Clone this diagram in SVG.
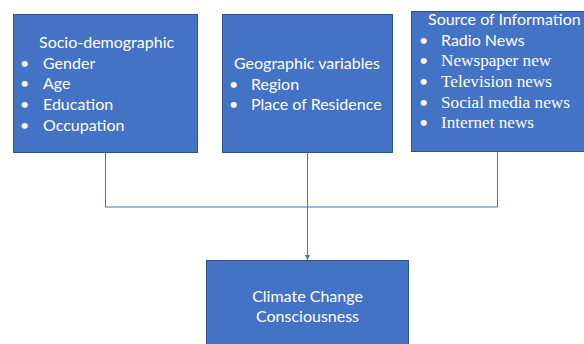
<svg xmlns="http://www.w3.org/2000/svg" width="584" height="344" viewBox="0 0 584 344">
<style>
.box{fill:#4472C4;stroke:#2F528F;stroke-width:1}
.t{fill:#fff;font-family:Lato,"Open Sans",sans-serif;font-size:16px}
.s{fill:#fff;font-family:"Liberation Serif",serif;font-size:17.2px}
.c{fill:none;stroke:#4472C4;stroke-width:1}
</style>
<defs>
<marker id="ah" viewBox="0 0 10 10" refX="10" refY="5" markerWidth="5" markerHeight="5" orient="auto">
<path d="M0,0 L10,5 L0,10 z" fill="#4472C4"/>
</marker>
</defs>
<g id="connectors">
<path class="c" d="M105.5,153 V207 H497.5 V152"/>
<path class="c" d="M307.5,153 V260" marker-end="url(#ah)"/>
</g>
<g id="socio">
<rect class="box" x="13.5" y="14.5" width="184" height="138"/>
<text class="t" x="39" y="48">Socio-demographic</text>
<text class="t" x="20" y="69">•</text><text class="t" x="43" y="69">Gender</text>
<text class="t" x="20" y="89">•</text><text class="t" x="43" y="89">Age</text>
<text class="t" x="20" y="110">•</text><text class="t" x="43" y="110">Education</text>
<text class="t" x="20" y="131">•</text><text class="t" x="43" y="131">Occupation</text>
</g>
<g id="geo">
<rect class="box" x="222.5" y="14.5" width="170" height="138"/>
<text class="t" x="234" y="69">Geographic variables</text>
<text class="t" x="229" y="90">•</text><text class="t" x="251" y="90">Region</text>
<text class="t" x="229" y="110">•</text><text class="t" x="251" y="110">Place of Residence</text>
</g>
<g id="source">
<rect class="box" x="411.5" y="11.5" width="173" height="140"/>
<text class="t" x="428" y="25">Source of Information</text>
<text class="t" x="419" y="46">•</text><text class="t" x="441" y="46">Radio News</text>
<text class="t" x="419" y="66">•</text><text class="s" x="441" y="66">Newspaper new</text>
<text class="t" x="419" y="87">•</text><text class="s" x="441" y="87">Television news</text>
<text class="t" x="419" y="108">•</text><text class="s" x="441" y="108">Social media news</text>
<text class="t" x="419" y="128">•</text><text class="s" x="441" y="128">Internet news</text>
</g>
<g id="climate">
<rect class="box" x="206.5" y="260.5" width="202" height="90"/>
<text class="t" x="307.5" y="302" text-anchor="middle">Climate Change</text>
<text class="t" x="307.5" y="322" text-anchor="middle">Consciousness</text>
</g>
</svg>
